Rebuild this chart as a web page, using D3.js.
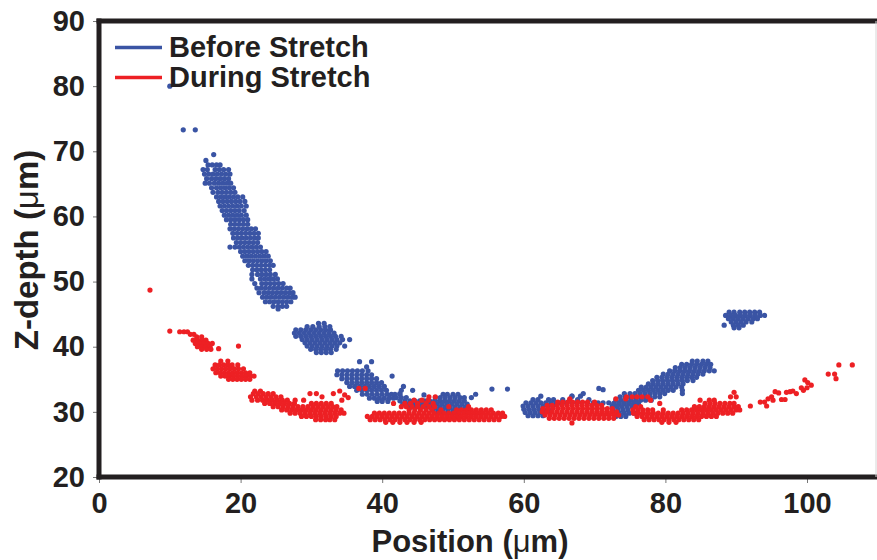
<!DOCTYPE html>
<html>
<head>
<meta charset="utf-8">
<script src="https://cdn.jsdelivr.net/npm/d3@7"></script>
<style>
  body { margin: 0; background: #fff; }
  svg { display: block; font-family: "Liberation Sans", Arial, sans-serif; font-weight: bold; }
</style>
</head>
<body>
<svg id="chart" width="877" height="560"></svg>
<script>
// ---- data (position um, z-depth um) ----
// single points as [x, y]; dense clusters as rows [y, x1, x2, ...]
const seriesNames = ['Before Stretch', 'During Stretch']
const xTicks = [0, 20, 40, 60, 80, 100]
const yTicks = [20, 30, 40, 50, 60, 70, 80, 90]

const beforeStray = [
  [10.0, 80.0], [11.9, 73.3], [13.6, 73.3], [16.2, 69.5], [15.1, 68.6],
  [36.8, 37.7], [38.5, 37.7], [37.8, 36.9], [41.4, 35.5], [43.0, 33.9],
  [44.3, 33.3], [42.5, 32.8], [45.9, 32.6], [55.5, 33.5], [57.7, 33.5],
  [66.8, 32.4], [68.4, 32.8], [70.6, 33.6], [71.2, 33.4]
]
const beforeBand = [
  [67.9, 15.4, 16.0, 16.6, 17.1],
  [67.2, 14.7, 15.3, 16.4, 17.0, 17.6, 18.3],
  [66.5, 14.9, 15.5, 16.1, 16.7, 17.3, 17.9, 18.5],
  [65.8, 15.2, 15.9, 16.5, 17.1, 17.7, 18.3],
  [65.1, 15.0, 15.6, 16.3, 16.9, 17.5, 18.1, 18.6],
  [64.4, 15.9, 16.6, 17.2, 17.8, 18.4, 19.0],
  [63.7, 16.1, 16.8, 17.4, 18.0, 18.6, 19.2],
  [63.0, 16.6, 17.2, 17.8, 18.4, 19.0, 19.6, 20.3],
  [62.3, 16.9, 17.5, 18.1, 18.7, 19.3, 19.9, 20.6],
  [61.6, 17.1, 17.7, 18.3, 18.9, 19.5, 20.1, 20.8],
  [60.9, 17.4, 18.0, 18.6, 19.2, 19.8, 20.5],
  [60.2, 17.7, 18.3, 18.9, 19.5, 20.1, 20.8],
  [59.5, 18.0, 18.6, 19.2, 19.8, 20.4, 21.0],
  [58.8, 18.6, 19.2, 19.8, 20.4, 21.0],
  [58.1, 18.5, 19.1, 19.7, 20.3, 20.9, 21.5, 22.1],
  [57.4, 18.9, 19.5, 20.1, 20.7, 21.3, 21.9, 22.5],
  [56.7, 19.0, 19.6, 20.2, 20.8, 21.4, 22.0, 22.5],
  [56.0, 19.4, 20.0, 20.6, 21.2, 21.8, 22.4],
  [55.3, 18.5, 19.2, 19.8, 20.4, 21.0, 21.6, 22.2, 22.8],
  [54.6, 20.0, 20.6, 21.2, 21.8, 22.4, 23.0, 23.6],
  [53.9, 20.3, 20.9, 21.5, 22.1, 22.7, 23.3, 23.9],
  [53.2, 20.6, 21.2, 21.8, 22.4, 23.0, 23.6, 24.2],
  [52.5, 21.1, 21.7, 22.3, 22.9, 23.5, 24.1, 24.6],
  [51.8, 21.7, 22.3, 22.9, 23.5, 24.1],
  [51.1, 21.6, 22.4, 23.0, 23.6, 24.2, 24.9],
  [50.4, 21.6, 22.8, 23.4, 24.0, 24.6, 25.2],
  [49.7, 22.0, 23.0, 23.6, 24.2, 24.8, 25.4, 26.0],
  [49.0, 22.3, 22.9, 23.5, 24.1, 24.7, 25.3, 25.9, 26.5, 27.0],
  [48.3, 22.6, 23.3, 23.9, 24.5, 25.1, 25.7, 26.3, 26.9, 27.4],
  [47.6, 23.1, 23.7, 24.3, 24.9, 25.5, 26.1, 26.7, 27.3, 27.7],
  [46.9, 23.5, 24.1, 24.7, 25.3, 25.9, 26.5, 27.1],
  [46.2, 24.6, 25.3, 25.9, 26.5],
  [45.8, 25.3]
]
const beforeMid = [
  [43.6, 31.0, 31.8],
  [43.1, 29.4, 30.2, 31.1, 31.9, 32.6],
  [42.6, 27.8, 28.5, 29.2, 29.9, 30.6, 31.3, 32.0, 32.7],
  [42.1, 27.6, 28.3, 29.0, 29.7, 30.4, 31.1, 31.8, 32.5, 33.2],
  [41.6, 27.8, 28.5, 29.2, 29.9, 30.6, 31.3, 32.0, 32.7, 33.4, 34.2],
  [41.1, 28.7, 29.4, 30.1, 30.8, 31.5, 32.2, 32.9, 33.6, 34.4, 35.4],
  [40.6, 29.1, 29.8, 30.5, 31.2, 31.9, 32.6, 33.3, 34.0],
  [40.1, 29.4, 30.1, 30.8, 31.5, 32.2, 32.9, 33.6, 34.7],
  [39.6, 29.9, 30.6, 31.3, 32.0, 32.7, 33.5],
  [39.1, 30.7, 31.4, 32.1, 32.8]
]
const beforeSlope = [
  [36.3, 33.7, 34.4, 35.1, 35.8, 36.5, 37.2, 38.0],
  [35.7, 33.6, 34.3, 35.0, 35.7, 36.4, 37.1, 37.8, 38.5],
  [35.1, 34.3, 35.0, 35.7, 36.4, 37.1, 37.8, 38.5, 39.2],
  [34.5, 35.0, 35.7, 36.4, 37.1, 37.8, 38.5, 39.2, 39.9],
  [33.9, 35.4, 36.1, 36.8, 37.5, 38.2, 38.9, 39.6, 40.3],
  [33.3, 36.4, 37.1, 37.8, 38.5, 39.2, 39.9, 40.6],
  [32.7, 37.2, 37.9, 38.6, 39.3, 40.0, 40.7, 41.3],
  [32.1, 38.2, 38.9, 39.6, 40.3, 41.0, 41.6],
  [31.6, 39.3, 40.0, 40.8]
]
const beforeFloor = [
  [33.3, 42.7],
  [32.7, 41.8, 42.5, 48.6, 49.2, 50.0, 50.7, 53.2],
  [32.2, 42.0, 42.7, 43.4, 47.5, 48.2, 48.9, 49.6, 50.3, 51.0, 51.6, 52.6],
  [31.7, 42.5, 43.2, 43.9, 44.6, 45.3, 46.0, 46.7, 47.4, 48.1, 48.8, 49.5, 50.2, 50.9, 51.6],
  [31.2, 42.9, 43.6, 44.3, 45.0, 45.7, 46.4, 47.1, 47.8, 48.5, 49.2, 49.9, 50.6, 51.3, 52.0],
  [30.7, 44.0, 44.7, 45.4, 46.1, 46.8, 47.5, 48.2, 48.9, 49.6, 50.3, 51.0, 51.7],
  [30.2, 47.2, 47.9, 48.6, 49.3, 50.0, 50.7, 51.4, 52.1],
  [29.7, 47.8, 48.5, 49.2, 49.9, 50.6]
]
const beforeCenter = [
  [32.4, 62.4, 66.8, 68.0],
  [31.9, 61.3, 62.0, 63.5, 64.2, 65.5, 66.5, 67.6, 69.2],
  [31.4, 60.3, 61.0, 61.7, 62.4, 63.1, 63.8, 64.5, 65.2, 66.0, 66.8, 67.5, 68.2, 69.0, 69.8, 70.5, 71.2, 72.0],
  [30.9, 59.9, 60.6, 61.3, 62.0, 62.7, 63.4, 64.1, 72.5, 73.2],
  [30.4, 60.0, 60.7, 61.4, 62.1, 62.8, 63.5],
  [29.9, 60.2, 60.9, 61.6, 62.3, 63.0, 63.7],
  [29.4, 60.6, 61.3, 62.0, 62.7]
]
const beforeRise = [
  [37.8, 83.8, 84.5, 85.3, 86.0],
  [37.3, 82.3, 83.0, 83.7, 84.4, 85.1, 85.8, 86.4],
  [36.8, 81.4, 82.1, 82.8, 83.5, 84.2, 84.9, 85.6, 86.3],
  [36.3, 80.6, 81.3, 82.0, 82.7, 83.4, 84.1, 84.8, 85.5, 86.2, 86.9],
  [35.8, 79.7, 80.4, 81.1, 81.8, 82.5, 83.2, 83.9, 84.6, 85.3],
  [35.3, 78.8, 79.5, 80.2, 80.9, 81.6, 82.3, 83.0, 83.7, 84.4],
  [34.8, 78.2, 78.9, 79.6, 80.3, 81.0, 81.7, 82.4, 83.1, 83.9],
  [34.3, 77.6, 78.3, 79.0, 79.7, 80.4, 81.1, 81.8, 82.5],
  [33.8, 76.6, 77.3, 78.0, 78.7, 79.4, 80.1, 80.8, 81.5, 82.3],
  [33.3, 76.2, 76.9, 77.6, 78.3, 79.0, 79.7, 80.4, 81.1, 82.4],
  [32.8, 74.2, 75.0, 75.7, 76.4, 77.1, 77.8, 78.5, 79.2, 79.9, 82.4],
  [32.3, 73.6, 74.3, 75.0, 75.7, 76.4, 77.1, 77.8, 78.5, 79.2],
  [31.8, 73.0, 73.7, 74.4, 75.1, 75.8, 76.5, 77.2, 78.0],
  [31.3, 72.7, 73.4, 74.1, 74.8, 75.5, 76.2],
  [30.8, 72.5, 73.2, 73.9, 74.6, 75.3],
  [30.3, 72.6, 73.3, 74.0, 74.7],
  [29.8, 72.8, 73.5, 74.2, 74.9, 75.6],
  [29.3, 73.0, 73.7, 74.4]
]
const beforeRight = [
  [45.3, 89.0, 89.7, 90.5, 91.2, 91.9, 92.6, 93.3],
  [44.8, 88.5, 89.2, 89.9, 90.6, 91.3, 92.0, 92.7, 93.4, 94.0],
  [44.3, 88.9, 89.6, 90.3, 91.0, 91.7, 92.4, 93.0],
  [43.8, 89.3, 90.0, 90.7, 91.4, 92.2],
  [43.3, 88.3, 89.6, 90.3, 91.0],
  [42.9, 89.7, 90.4]
]

const duringStray = [
  [7.2, 48.7], [10.0, 42.4], [19.7, 40.1], [16.9, 39.7], [17.2, 37.8], [18.2, 37.8],
  [34.0, 33.2], [34.7, 32.6], [35.2, 32.2], [36.7, 33.6], [37.6, 33.6],
  [66.8, 28.3], [89.7, 33.0],
  [92.0, 30.9], [93.4, 31.5], [94.0, 31.5], [94.3, 30.9], [94.5, 32.0], [95.0, 32.3],
  [95.2, 31.8], [95.5, 33.1], [96.0, 32.9], [96.4, 31.9], [96.9, 31.9], [97.1, 33.0],
  [97.6, 33.1], [98.0, 33.2], [98.5, 32.8], [99.2, 33.7], [99.5, 33.3], [100.0, 33.7],
  [99.7, 34.9], [100.1, 34.5], [100.6, 34.1], [103.0, 35.8], [103.9, 35.8], [104.1, 35.1],
  [104.5, 37.2], [106.4, 37.2]
]
const duringLeft = [
  [42.3, 11.4, 12.0, 12.5],
  [41.9, 12.9, 13.4],
  [41.5, 13.8, 14.5],
  [41.0, 13.3, 13.9, 14.5, 15.1],
  [40.5, 13.6, 14.2, 14.8, 15.4, 16.0],
  [40.0, 13.9, 14.5, 15.1, 15.7],
  [39.6, 14.5, 15.2, 15.8]
]
const duringStep = [
  [37.2, 16.4, 17.0, 17.6, 18.2, 18.8, 19.6],
  [36.6, 16.1, 16.7, 17.3, 17.9, 18.5, 19.1, 19.7, 20.4],
  [36.0, 16.5, 17.1, 17.7, 18.3, 18.9, 19.5, 20.1, 20.7, 21.3],
  [35.5, 17.2, 17.8, 18.4, 19.0, 19.6, 20.2, 20.8, 21.4, 21.9],
  [35.0, 18.3, 18.9, 19.5, 20.1, 20.7, 21.3]
]
const duringArc = [
  [33.2, 22.0, 22.8],
  [32.8, 21.8, 22.5, 23.2, 23.9, 24.6, 29.8, 30.7, 33.1],
  [32.3, 21.4, 22.2, 22.9, 23.6, 24.3, 25.0, 25.7, 31.5],
  [31.8, 21.6, 22.4, 23.1, 23.8, 24.5, 25.2, 25.9, 26.6, 27.7, 28.9, 34.3],
  [31.3, 23.4, 24.1, 24.8, 25.5, 26.2, 26.9, 27.6, 30.0, 30.7, 31.4, 32.1, 32.8],
  [30.8, 24.6, 25.3, 26.0, 26.7, 27.4, 28.1, 28.8, 29.5, 30.2, 30.9, 31.6, 32.3, 33.0, 33.6],
  [30.3, 25.8, 26.5, 27.2, 27.9, 28.6, 29.3, 30.0, 30.7, 31.4, 32.1, 32.8, 33.5, 34.2],
  [29.8, 27.0, 27.7, 28.4, 29.1, 29.8, 30.5, 31.2, 31.9, 32.6, 33.3, 34.0, 34.6],
  [29.3, 28.6, 29.3, 30.0, 30.7, 31.4, 32.1, 32.8, 33.5],
  [28.8, 30.6, 31.3, 32.0, 32.6, 33.3]
]
const duringFloor = [
  [32.3, 46.6, 47.5],
  [31.8, 44.5, 45.6, 46.5],
  [31.3, 41.6, 43.2, 44.0, 45.0, 46.2, 47.2],
  [30.8, 42.7, 43.4, 44.2, 45.0, 45.8, 46.6, 47.4, 49.4, 52.2],
  [30.3, 43.8, 44.6, 45.4, 46.2, 47.0, 48.3, 50.5, 51.2, 51.9, 52.6, 53.3, 54.0, 54.7, 55.4],
  [29.8, 38.9, 39.6, 40.3, 41.0, 41.7, 42.4, 43.1, 43.8, 44.5, 45.2, 45.9, 46.6, 47.3, 48.0, 48.7, 49.4, 50.1, 50.8, 51.5, 52.2, 52.9, 53.6, 54.3, 55.0, 55.7, 56.4, 57.0],
  [29.3, 37.9, 38.6, 39.3, 40.0, 40.7, 41.4, 42.1, 42.8, 43.5, 44.2, 44.9, 45.6, 46.3, 47.0, 47.7, 48.4, 49.1, 49.8, 50.5, 51.2, 51.9, 52.6, 53.3, 54.0, 54.7, 55.4, 56.1, 56.8, 57.3],
  [28.8, 38.3, 39.0, 39.7, 40.4, 41.1, 41.8, 42.5, 43.2, 43.9, 44.6, 45.3, 46.0, 46.7, 47.4, 48.1, 48.8, 49.5, 50.2, 50.9, 51.6, 52.3, 53.0, 53.7, 54.4, 55.1, 55.8, 56.5],
  [28.4, 40.5, 41.5, 42.5, 43.5, 44.5, 45.5]
]
const duringCenter = [
  [32.0, 66.5, 73.0, 74.4],
  [31.5, 64.8, 65.5, 66.2, 66.9, 67.6, 68.3, 69.0, 70.0],
  [31.0, 63.3, 64.0, 64.7, 65.4, 66.1, 66.8, 67.5, 68.2, 68.9, 69.6, 70.3, 71.0],
  [30.5, 62.7, 63.4, 64.1, 64.8, 65.5, 66.2, 66.9, 67.6, 68.3, 69.0, 69.7, 70.4, 71.1, 71.8, 72.5],
  [30.0, 62.6, 63.3, 64.0, 64.7, 65.4, 66.1, 66.8, 67.5, 68.2, 68.9, 69.6, 70.3, 71.0, 71.7, 72.4, 73.1],
  [29.5, 63.0, 63.7, 64.4, 65.1, 65.8, 66.5, 67.2, 67.9, 68.6, 69.3, 70.0, 70.7, 71.4, 72.1, 72.8, 73.4],
  [29.0, 63.6, 64.3, 65.0, 65.7, 66.4, 67.1, 67.8, 68.5, 69.2, 69.9, 70.6, 71.3, 72.0, 72.7]
]
const duringRise = [
  [32.3, 74.5, 75.3, 76.0, 76.7, 77.5, 89.2, 90.0],
  [31.8, 77.9, 84.9, 86.2, 86.9],
  [31.3, 79.2, 85.6, 86.3, 87.0, 87.7, 88.4, 89.1, 89.7],
  [30.8, 75.8, 76.5, 84.1, 84.8, 85.5, 86.2, 86.9, 87.6, 88.3, 89.0, 89.7, 90.3],
  [30.3, 75.4, 76.1, 76.8, 77.5, 78.2, 79.7, 82.3, 83.0, 83.7, 84.4, 85.1, 85.8, 86.5, 87.2, 87.9, 88.6, 89.3, 90.0, 90.5],
  [29.8, 75.5, 76.2, 76.9, 77.6, 78.3, 79.0, 79.7, 80.4, 81.1, 81.8, 82.5, 83.2, 83.9, 84.6, 85.3, 86.0, 86.7, 87.4, 88.1, 88.8, 89.5],
  [29.3, 76.0, 76.7, 77.4, 78.1, 78.8, 79.5, 80.2, 80.9, 81.6, 82.3, 83.0, 83.7, 84.4, 85.1, 85.8, 86.5, 87.2],
  [28.8, 77.0, 77.7, 78.4, 79.1, 79.8, 80.5, 81.2, 81.9, 82.6, 83.3, 84.0, 84.7],
  [28.4, 79.5, 80.5, 81.5]
]

const colors = ['#3a54a4', '#ed2024']
const ink = '#231f20'

// rows [y, x1, x2 ...] -> [x, y] points
function rowsToPoints(rows) {
  return rows.flatMap(([yv, ...xs]) => xs.map(xv => [xv, yv]))
}

const before = beforeStray.concat(
  [beforeBand, beforeMid, beforeSlope, beforeFloor, beforeCenter, beforeRise, beforeRight].flatMap(rowsToPoints))
const during = duringStray.concat(
  [duringLeft, duringStep, duringArc, duringFloor, duringCenter, duringRise].flatMap(rowsToPoints))

const svg = d3.select('#chart')

const x = d3.scaleLinear().domain([0, 110]).range([99, 877.8])
const y = d3.scaleLinear().domain([20, 90]).range([477, 21])

// points: blue first, red on top
const series = [before, during]
series.forEach((pts, i) => {
  svg.append('g')
    .selectAll('circle')
    .data(pts)
    .join('circle')
    .attr('cx', d => x(d[0]))
    .attr('cy', d => y(d[1]))
    .attr('r', 2.6)
    .attr('fill', colors[i])
})

// axes
const yAxis = svg.append('g')
  .attr('transform', `translate(${x(0)},0)`)
  .call(d3.axisLeft(y).tickValues(yTicks).tickSize(6).tickPadding(8))
const xAxis = svg.append('g')
  .attr('transform', `translate(0,${y(20)})`)
  .call(d3.axisBottom(x).tickValues(xTicks).tickSize(6).tickPadding(9))

;[yAxis, xAxis].forEach(a => {
  a.select('.domain').remove()
  a.selectAll('.tick line').attr('stroke', '#777').attr('stroke-width', 1)
  a.selectAll('.tick text')
    .attr('fill', ink)
    .style('font-size', '29px')
    .style('font-weight', 'bold')
    .style('font-family', '"Liberation Sans", Arial, sans-serif')
})

// frame: thick left, bottom, top; thin grey right
const frame = svg.append('g').attr('stroke', ink).attr('stroke-width', 5)
frame.append('line').attr('x1', x(0)).attr('x2', x(0)).attr('y1', y(90) - 2.5).attr('y2', y(20) + 2.5)
frame.append('line').attr('x1', x(0) - 2.5).attr('x2', 877).attr('y1', y(20)).attr('y2', y(20))
frame.append('line').attr('x1', x(0) - 2.5).attr('x2', 877).attr('y1', y(90)).attr('y2', y(90))
svg.append('line').attr('x1', 876).attr('x2', 876).attr('y1', y(90)).attr('y2', y(20))
  .attr('stroke', '#d6d6d6').attr('stroke-width', 1)

// axis titles
const yTitle = svg.append('text')
  .attr('transform', 'translate(38,250) rotate(-90)')
  .attr('text-anchor', 'middle')
  .attr('fill', ink)
  .style('font-size', '33px')
yTitle.append('tspan').text('Z-depth (')
yTitle.append('tspan').style('font-weight', 'normal').text('\u03bc')
yTitle.append('tspan').text('m)')

const xTitle = svg.append('text')
  .attr('x', 470)
  .attr('y', 552)
  .attr('text-anchor', 'middle')
  .attr('fill', ink)
  .style('font-size', '31px')
xTitle.append('tspan').text('Position (')
xTitle.append('tspan').style('font-weight', 'normal').text('\u03bc')
xTitle.append('tspan').text('m)')

// legend
const legend = svg.append('g').attr('transform', 'translate(115,47.5)')
seriesNames.forEach((name, i) => {
  const row = legend.append('g').attr('transform', `translate(0,${i * 30})`)
  row.append('line').attr('x1', 0).attr('x2', 47).attr('stroke', colors[i]).attr('stroke-width', 3.5)
  row.append('text').attr('x', 54).attr('y', 9.5).attr('fill', ink).style('font-size', '29px').text(name)
})
</script>
</body>
</html>
